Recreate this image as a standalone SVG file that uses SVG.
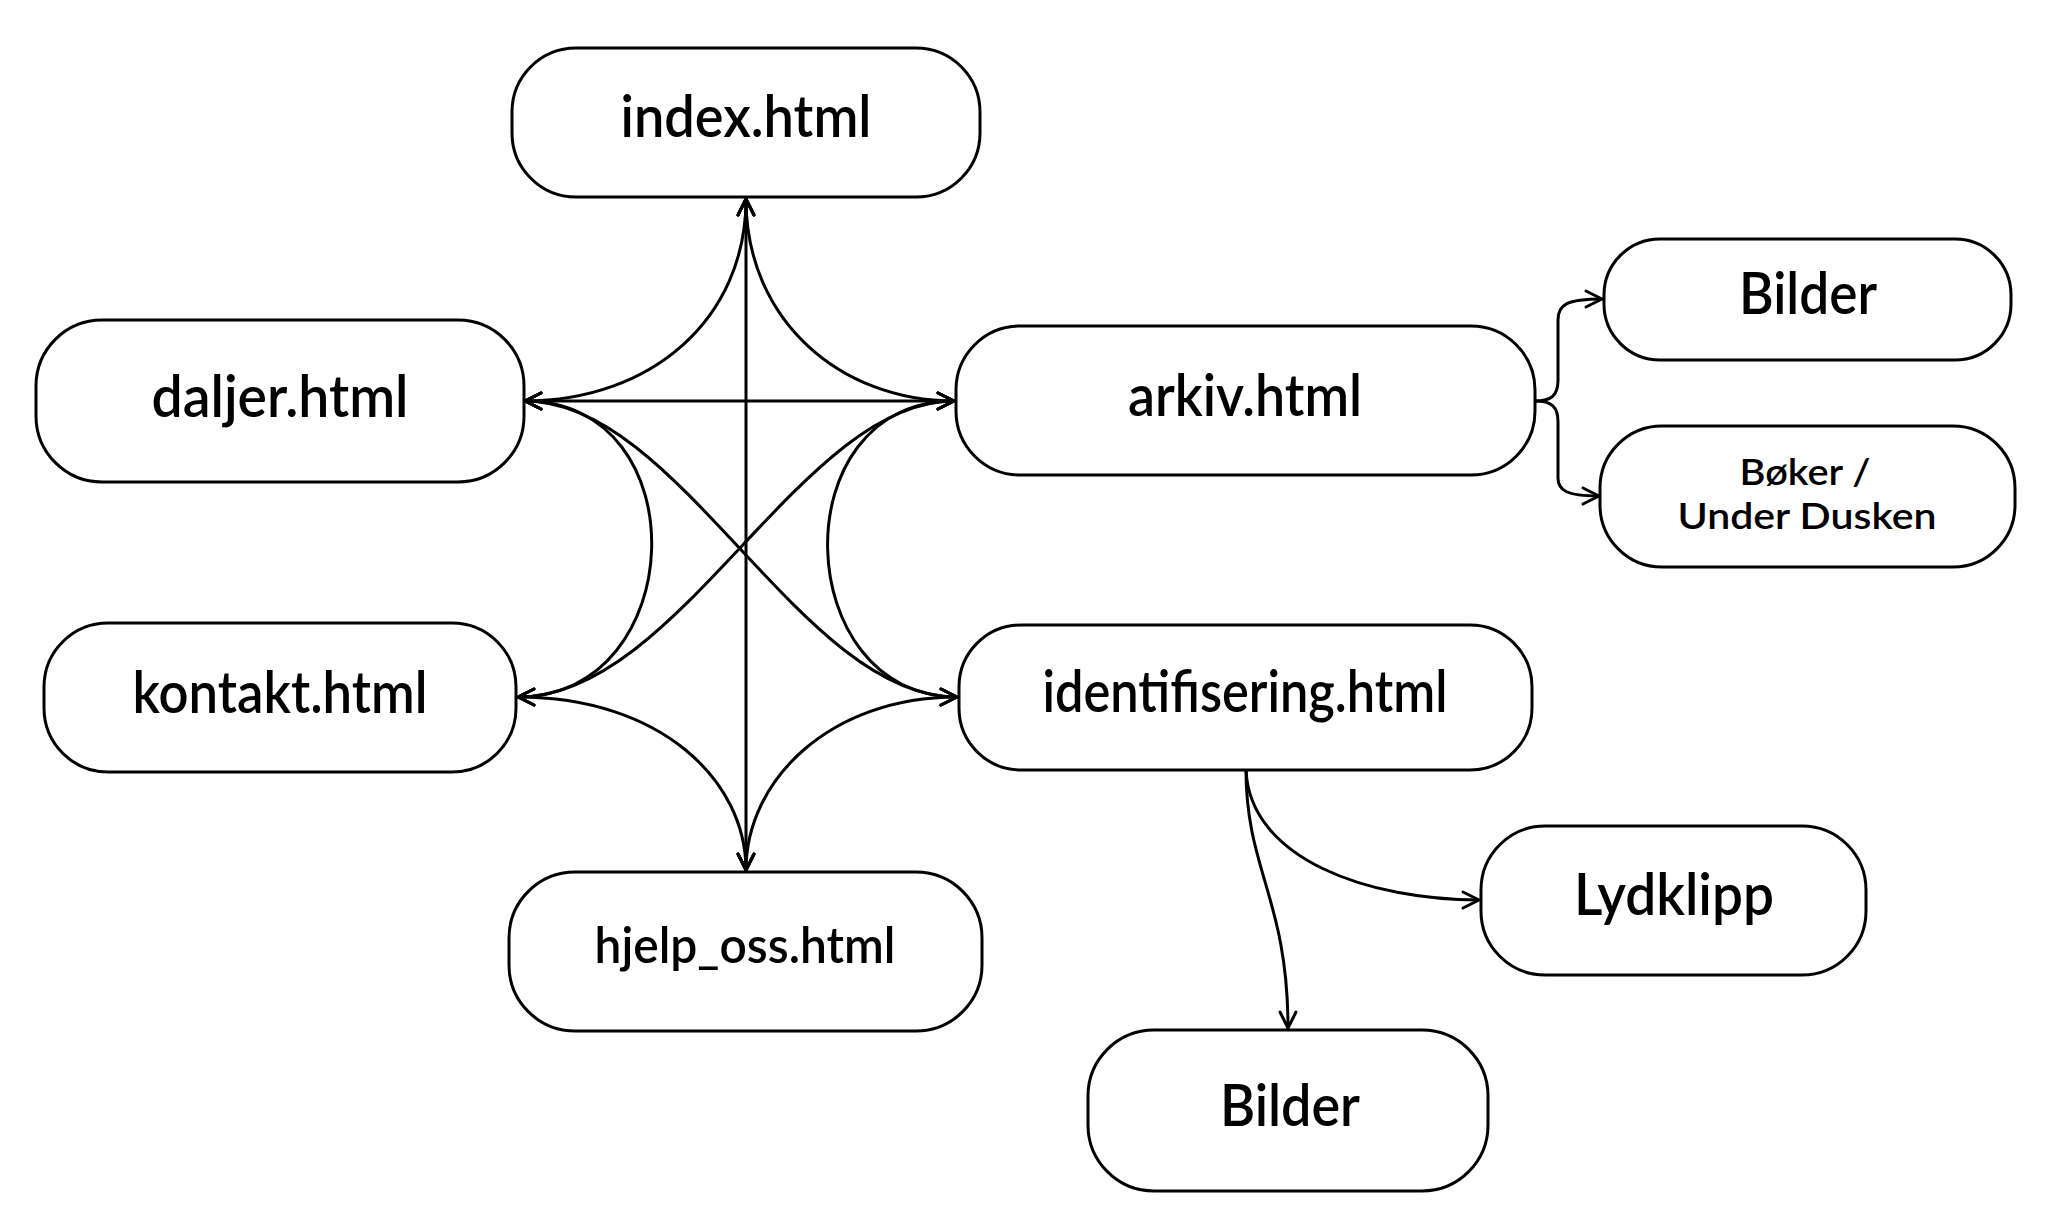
<svg xmlns="http://www.w3.org/2000/svg" width="2048" height="1224" viewBox="0 0 2048 1224">
<style>
.box{fill:#fff;stroke:#000;stroke-width:3}
.t{font-family:Lato,"Liberation Sans",sans-serif;font-size:58px;fill:#000;text-anchor:middle;font-weight:600}
.ts{font-size:50px}
.tx{font-size:36px}
.c{fill:none;stroke:#000;stroke-width:3}
.bi{marker-start:url(#ah);marker-end:url(#ah)}
.uni{marker-end:url(#ah)}
</style>
<defs>
<marker id="ah" markerUnits="userSpaceOnUse" viewBox="-20 -12 24 24" refX="0" refY="0" markerWidth="24" markerHeight="24" orient="auto-start-reverse">
<path d="M-16,-8 L0,0 L-16,8" fill="none" stroke="#000" stroke-width="3" stroke-linecap="round" stroke-linejoin="round"/>
</marker>
</defs>
<rect width="2048" height="1224" fill="#fff"/>
<g id="connectors">
<path class="c bi" d="M746,199 L746,870"/>
<path class="c bi" d="M525,401 L954,401"/>
<path class="c bi" d="M746,199 C746,320 650,401 525,401"/>
<path class="c bi" d="M746,199 C746,320 840,401 954,401"/>
<path class="c bi" d="M525,401 C700,401 690,697 518,697"/>
<path class="c bi" d="M954,401 C780,401 790,697 957,697"/>
<path class="c bi" d="M525,401 C680,401 800,697 957,697"/>
<path class="c bi" d="M954,401 C800,401 680,697 518,697"/>
<path class="c bi" d="M518,697 C660,697 746,780 746,870"/>
<path class="c bi" d="M957,697 C830,697 746,780 746,870"/>
<path class="c uni" d="M1535,401 C1552,401 1558,395 1558,380 L1558,320 C1558,305 1566,299 1602,299"/>
<path class="c uni" d="M1535,401 C1552,401 1558,407 1558,422 L1558,478 C1558,490 1566,496 1599,496"/>
<path class="c uni" d="M1246,770 C1250,860 1370,900 1479,900"/>
<path class="c uni" d="M1246,770 C1246,870 1288,900 1288,1028"/>
</g>
<g id="index">
<rect class="box" x="512" y="48" width="468" height="149" rx="64"/>
<text class="t" x="746" y="137" textLength="251" lengthAdjust="spacingAndGlyphs">index.html</text>
</g>
<g id="daljer">
<rect class="box" x="36" y="320" width="488" height="162" rx="66"/>
<text class="t" x="280" y="417" textLength="257" lengthAdjust="spacingAndGlyphs">daljer.html</text>
</g>
<g id="arkiv">
<rect class="box" x="956" y="326" width="579" height="149" rx="64"/>
<text class="t" x="1245" y="416" textLength="234" lengthAdjust="spacingAndGlyphs">arkiv.html</text>
</g>
<g id="kontakt">
<rect class="box" x="44" y="623" width="472" height="149" rx="64"/>
<text class="t" x="280" y="713" textLength="295" lengthAdjust="spacingAndGlyphs">kontakt.html</text>
</g>
<g id="identifisering">
<rect class="box" x="959" y="625" width="573" height="145" rx="62"/>
<text class="t" x="1245" y="712" textLength="405" lengthAdjust="spacingAndGlyphs">identifisering.html</text>
</g>
<g id="hjelp_oss">
<rect class="box" x="509" y="872" width="473" height="159" rx="66"/>
<text class="t ts" x="745" y="963" textLength="301" lengthAdjust="spacingAndGlyphs">hjelp_oss.html</text>
</g>
<g id="bilder_arkiv">
<rect class="box" x="1604" y="239" width="407" height="121" rx="56"/>
<text class="t" x="1808" y="314" textLength="138" lengthAdjust="spacingAndGlyphs">Bilder</text>
</g>
<g id="boker">
<rect class="box" x="1600" y="426" width="415" height="141" rx="62"/>
<text class="t tx" x="1805" y="485" textLength="131" lengthAdjust="spacingAndGlyphs">Bøker /</text>
<text class="t tx" x="1807" y="529" textLength="259" lengthAdjust="spacingAndGlyphs">Under Dusken</text>
</g>
<g id="lydklipp">
<rect class="box" x="1481" y="826" width="385" height="149" rx="64"/>
<text class="t" x="1674" y="915" textLength="200" lengthAdjust="spacingAndGlyphs">Lydklipp</text>
</g>
<g id="bilder_ident">
<rect class="box" x="1088" y="1030" width="400" height="161" rx="66"/>
<text class="t" x="1290" y="1126" textLength="140" lengthAdjust="spacingAndGlyphs">Bilder</text>
</g>
</svg>
